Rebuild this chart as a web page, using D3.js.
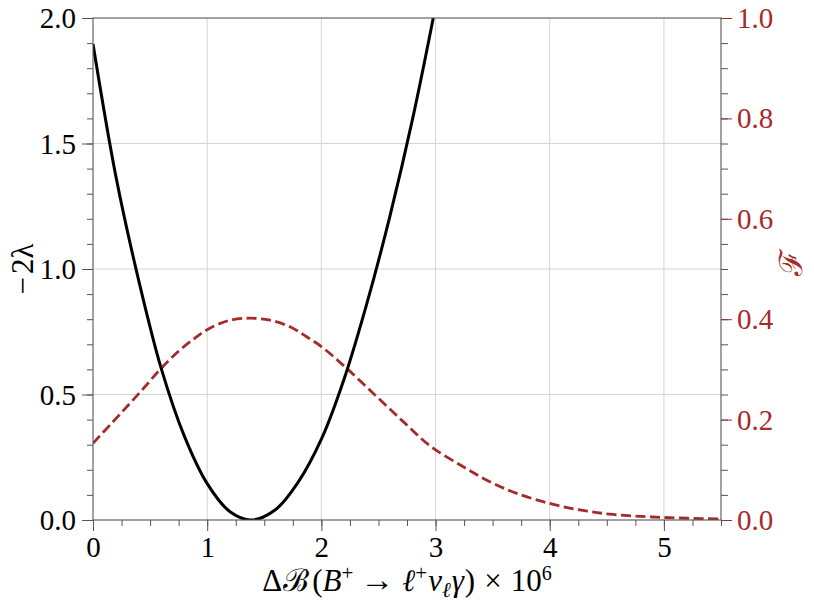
<!DOCTYPE html>
<html>
<head>
<meta charset="utf-8">
<script src="https://cdn.jsdelivr.net/npm/d3@7"></script>
<style>
  html, body { margin: 0; padding: 0; background: #fff; }
  svg { display: block; }
  text { font-family: "Liberation Serif", "DejaVu Serif", serif; }
</style>
</head>
<body>
<svg id="chart" width="814" height="610"></svg>
<script>
// ---- data ----
const lambdaX = [0, 0.2, 0.4, 0.6, 0.8, 1.0, 1.2, 1.385, 1.6, 1.8, 2.0, 2.2, 2.4, 2.6, 2.8, 2.98];
const lambdaY = [1.896, 1.370, 0.955, 0.600, 0.334, 0.145, 0.033, 0.0, 0.042, 0.153, 0.322, 0.563, 0.865, 1.21, 1.60, 2.0];

const fX = [0, 0.16, 0.306, 0.453, 0.584, 0.744, 0.890, 1.007, 1.182, 1.37, 1.55, 1.725, 1.871, 2.003, 2.222, 2.484, 2.717, 2.95, 3.243, 3.476, 3.71, 4.0, 4.264, 4.556, 5.0, 5.5];
const fY = [0.153, 0.192, 0.228, 0.265, 0.299, 0.335, 0.362, 0.380, 0.397, 0.402, 0.398, 0.385, 0.365, 0.345, 0.302, 0.246, 0.196, 0.148, 0.106, 0.076, 0.053, 0.033, 0.020, 0.011, 0.005, 0.002];

const xTicks = [0, 1, 2, 3, 4, 5];
const yLeftTicks = [0.0, 0.5, 1.0, 1.5, 2.0];
const yRightTicks = [0.0, 0.2, 0.4, 0.6, 0.8, 1.0];

// ---- layout ----
const L = 93, R = 721, T = 18, B = 520;
const RED = "#a52a2a";
const AXC = "#555";
const FS = 29;

const svg = d3.select("#chart");
svg.append("rect").attr("width", 814).attr("height", 610).attr("fill", "#fff");

const x = d3.scaleLinear().domain([0, 5.5]).range([L, R]);
const yL = d3.scaleLinear().domain([0, 2]).range([B, T]);
const yR = d3.scaleLinear().domain([0, 1]).range([B, T]);

// grid
const grid = svg.append("g").attr("stroke", "#d4d4d4").attr("stroke-width", 1);
xTicks.filter(v => v > 0).forEach(v => {
  grid.append("line").attr("x1", x(v)).attr("x2", x(v)).attr("y1", T).attr("y2", B);
});
yLeftTicks.filter(v => v > 0 && v < 2).forEach(v => {
  grid.append("line").attr("x1", L).attr("x2", R).attr("y1", yL(v)).attr("y2", yL(v));
});

// curves
const lineL = d3.line().x((d, i) => x(lambdaX[i])).y(d => yL(d)).curve(d3.curveCatmullRom.alpha(0.5));
const lineR = d3.line().x((d, i) => x(fX[i])).y(d => yR(d)).curve(d3.curveCatmullRom.alpha(0.5));

svg.append("defs").append("clipPath").attr("id", "clip")
  .append("rect").attr("x", L).attr("y", T).attr("width", R - L).attr("height", B - T);

svg.append("path").attr("d", lineR(fY)).attr("fill", "none")
  .attr("stroke", RED).attr("stroke-width", 2.8).attr("stroke-dasharray", "10,4.5")
  .attr("clip-path", "url(#clip)");
svg.append("path").attr("d", lineL(lambdaY)).attr("fill", "none")
  .attr("stroke", "#000").attr("stroke-width", 3)
  .attr("clip-path", "url(#clip)");

// axes
const fmt = d3.format(".1f");
const ax = svg.append("g");

const xAxis = d3.axisBottom(x).tickValues(xTicks).tickSize(11).tickFormat(d3.format("d"));
const xMinor = d3.axisBottom(x).tickValues(d3.range(0, 5.51, 0.25)).tickSize(6).tickFormat("");
const gxm = ax.append("g").attr("transform", `translate(0,${B})`).call(xMinor);
const gx = ax.append("g").attr("transform", `translate(0,${B})`).call(xAxis);

const yAxis = d3.axisLeft(yL).tickValues(yLeftTicks).tickSize(11).tickFormat(fmt);
const yMinor = d3.axisLeft(yL).tickValues(d3.range(0, 2.001, 0.1)).tickSize(6).tickFormat("");
const gym = ax.append("g").attr("transform", `translate(${L},0)`).call(yMinor);
const gy = ax.append("g").attr("transform", `translate(${L},0)`).call(yAxis);

const yrAxis = d3.axisRight(yR).tickValues(yRightTicks).tickSize(11).tickFormat(fmt);
const yrMinor = d3.axisRight(yR).tickValues(d3.range(0, 1.001, 0.05)).tickSize(7).tickFormat("");
const grm = ax.append("g").attr("transform", `translate(${R},0)`).call(yrMinor);
const gr = ax.append("g").attr("transform", `translate(${R},0)`).call(yrAxis);

[gxm, gx, gym, gy, grm, gr].forEach(g => {
  g.select(".domain").remove();
  g.selectAll("line").attr("stroke", AXC).attr("stroke-width", 1);
});
gr.selectAll("line").attr("stroke", RED);

gx.selectAll("text").attr("font-size", FS).attr("fill", "#000").attr("dy", null).attr("y", 37);
gy.selectAll("text").attr("font-size", FS).attr("fill", "#000").attr("x", -17).attr("dy", "0.33em");
gr.selectAll("text").attr("font-size", FS).attr("fill", RED).attr("x", 16).attr("dy", "0.33em");

// spines
svg.append("rect").attr("x", L).attr("y", T).attr("width", R - L).attr("height", B - T)
  .attr("stroke", AXC).attr("stroke-width", 1.1).attr("fill", "none");

// labels
const xl = svg.append("text").attr("x", (L + R) / 2).attr("y", 591)
  .attr("text-anchor", "middle").attr("font-size", 31).attr("fill", "#000");
xl.append("tspan").text("Δ");
xl.append("tspan").attr("dx", 1).text("ℬ");
xl.append("tspan").attr("dx", 3).text("(");
xl.append("tspan").attr("font-style", "italic").text("B");
xl.append("tspan").attr("font-size", 21).attr("dy", -11).text("+");
xl.append("tspan").attr("dy", 11).attr("dx", 7).attr("font-size", 34).text("→");
xl.append("tspan").attr("dx", 8).attr("font-style", "italic").text("ℓ");
xl.append("tspan").attr("font-size", 21).attr("dy", -11).text("+");
xl.append("tspan").attr("dy", 11).attr("dx", 1).attr("font-style", "italic").text("ν");
xl.append("tspan").attr("font-size", 21).attr("dy", 6).attr("font-style", "italic").text("ℓ");
xl.append("tspan").attr("dy", -6).attr("dx", 1).attr("font-style", "italic").text("γ");
xl.append("tspan").attr("dx", 1).text(")");
xl.append("tspan").attr("dx", 9).text("×");
xl.append("tspan").attr("dx", 9).text("10");
xl.append("tspan").attr("font-size", 20).attr("dy", -11).text("6");

const yl = svg.append("text").attr("transform", `translate(33,${(T + B) / 2}) rotate(-90)`)
  .attr("text-anchor", "middle").attr("font-size", 31).attr("fill", "#000");
yl.append("tspan").text("−");
yl.append("tspan").attr("dx", 3).text("2λ");

svg.append("text").attr("transform", `translate(802,${(T + B) / 2 - 6}) rotate(-90)`)
  .attr("text-anchor", "middle").attr("font-size", 32).attr("fill", RED)
  .text("ℱ");
</script>
</body>
</html>
